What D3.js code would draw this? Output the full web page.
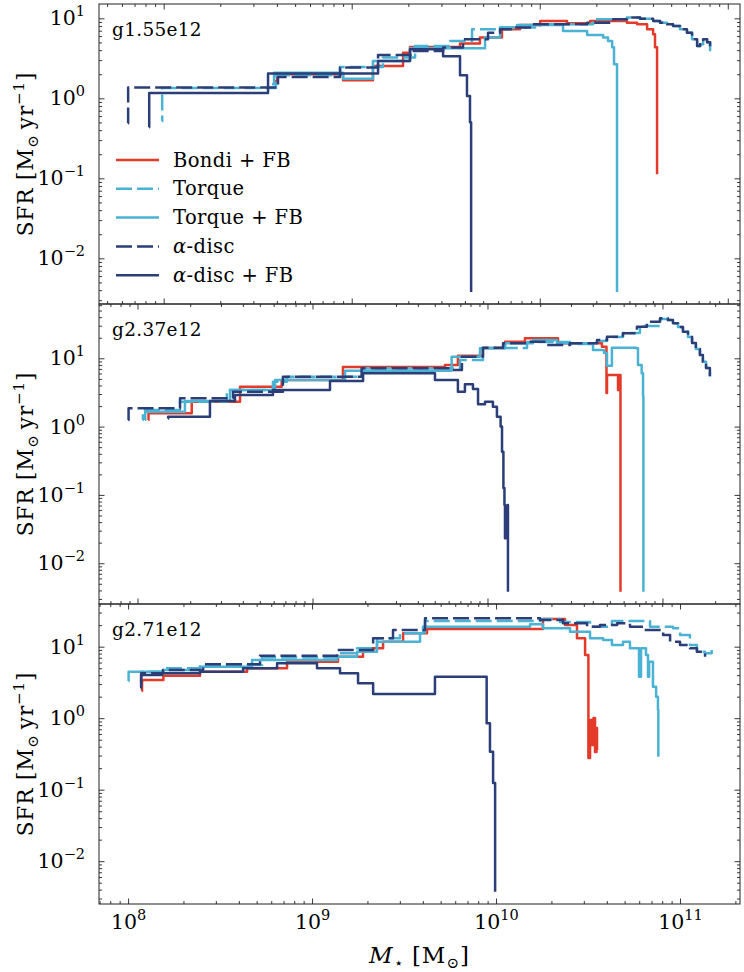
<!DOCTYPE html>
<html>
<head>
<meta charset="utf-8">
<script src="https://cdn.jsdelivr.net/npm/d3@7/dist/d3.min.js"></script>
<style>
  html, body { margin: 0; padding: 0; background: #fff; }
  svg { display: block; }
  text { font-family: "DejaVu Serif", serif; fill: #000; }
</style>
</head>
<body>
<svg id="chart" width="744" height="972"></svg>
<script>
// ---------------- data (log10 M* [Msun], log10 SFR [Msun/yr]) ----------------
const panelNames = ["g1.55e12", "g2.37e12", "g2.71e12"];
const seriesLabels = ["Bondi + FB", "Torque", "Torque + FB", "α-disc", "α-disc + FB"];

// axis limits per panel (log10 units)
const xLimLog = [[7.656, 11.065], [7.780, 11.443], [7.842, 11.326]];
const yLimLog = [[-2.571, 1.179], [-2.597, 1.795], [-2.599, 1.597]];

// ---- g1.55e12
const g155_bondiFB = [[8.592,0.213],[8.603,0.300],[8.954,0.225],[9.113,0.404],[9.273,0.571],[9.310,0.641],[9.576,0.684],[9.682,0.759],[9.799,0.863],[9.895,0.916],[10.002,0.966],[10.145,0.938],[10.268,0.966],[10.464,0.946],[10.518,0.925],[10.571,0.863],[10.603,0.800],[10.613,0.638],[10.624,-0.950]];
const g155_torque = [[7.991,-0.288],[7.992,0.129],[8.597,0.288],[8.938,0.391],[9.166,0.509],[9.337,0.654],[9.523,0.716],[9.640,0.863],[9.789,0.884],[10.002,0.925],[10.284,0.988],[10.464,1.009],[10.534,0.994],[10.603,0.966],[10.640,0.946],[10.677,0.925],[10.709,0.904],[10.746,0.863],[10.783,0.821],[10.810,0.738],[10.837,0.654],[10.853,0.675],[10.869,0.738],[10.890,0.700],[10.906,0.571]];
const g155_torqueFB = [[8.576,0.175],[8.587,0.319],[8.954,0.244],[9.113,0.466],[9.310,0.625],[9.709,0.759],[9.789,0.884],[9.879,0.916],[10.124,0.841],[10.252,0.791],[10.337,0.759],[10.363,0.716],[10.385,0.638],[10.395,0.425],[10.411,-2.421]];
const g155_alpha = [[7.810,-0.313],[7.811,0.134],[8.608,0.266],[8.938,0.384],[9.140,0.541],[9.321,0.591],[9.486,0.634],[9.592,0.738],[9.725,0.821],[9.789,0.863],[9.858,0.884],[9.948,0.925],[10.252,0.946],[10.390,0.988],[10.464,1.009],[10.534,0.994],[10.603,0.966],[10.640,0.946],[10.677,0.925],[10.709,0.904],[10.746,0.863],[10.783,0.821],[10.810,0.738],[10.837,0.654],[10.853,0.675],[10.869,0.738],[10.890,0.700],[10.906,0.613]];
const g155_alphaFB = [[7.922,-0.363],[7.923,0.066],[8.555,0.309],[9.140,0.466],[9.310,0.613],[9.486,0.525],[9.576,0.288],[9.613,0.029],[9.629,-0.300],[9.635,-2.421]];

// ---- g2.37e12
const g237_bondiFB = [[8.062,0.097],[8.063,0.195],[8.310,0.365],[8.586,0.584],[8.824,0.682],[9.174,0.873],[9.757,0.902],[9.831,1.038],[9.974,1.151],[10.100,1.243],[10.214,1.293],[10.403,1.220],[10.654,1.170],[10.680,0.492],[10.683,0.755],[10.746,0.536],[10.749,0.755],[10.760,-2.417]];
const g237_torque = [[8.030,0.097],[8.031,0.243],[8.243,0.365],[8.511,0.536],[8.774,0.657],[8.854,0.731],[9.283,0.854],[9.797,0.858],[9.843,0.975],[9.974,1.151],[10.226,1.239],[10.471,1.209],[10.626,1.253],[10.683,1.312],[10.774,1.371],[10.871,1.473],[10.986,1.576],[11.031,1.561],[11.060,1.512],[11.089,1.458],[11.117,1.389],[11.146,1.312],[11.169,1.224],[11.191,1.136],[11.214,1.048],[11.231,0.950],[11.249,0.858],[11.271,0.731]];
const g237_torqueFB = [[8.043,0.097],[8.044,0.218],[8.271,0.375],[8.529,0.536],[8.786,0.682],[9.186,0.818],[9.795,1.023],[9.957,1.146],[10.100,1.220],[10.260,1.268],[10.397,1.220],[10.603,1.122],[10.666,1.078],[10.683,0.892],[10.711,1.155],[10.849,1.146],[10.860,0.902],[10.881,0.780],[10.889,0.438],[10.891,-2.417]];
const g237_alpha = [[7.947,0.097],[7.949,0.268],[8.243,0.414],[8.546,0.511],[8.831,0.731],[9.281,0.854],[9.797,0.829],[9.854,1.023],[9.974,1.155],[10.089,1.220],[10.226,1.243],[10.340,1.195],[10.471,1.220],[10.626,1.268],[10.683,1.316],[10.774,1.366],[10.854,1.463],[10.911,1.536],[10.986,1.586],[11.031,1.561],[11.060,1.512],[11.089,1.458],[11.117,1.389],[11.146,1.312],[11.169,1.224],[11.191,1.136],[11.214,1.048],[11.231,0.950],[11.249,0.858],[11.271,0.731]];
const g237_alphaFB = [[8.174,0.120],[8.175,0.145],[8.414,0.375],[8.557,0.463],[8.774,0.536],[9.100,0.668],[9.289,0.780],[9.700,0.682],[9.831,0.511],[9.871,0.619],[9.917,0.551],[9.946,0.327],[9.986,0.365],[10.031,0.291],[10.054,0.145],[10.075,0.000],[10.083,-0.367],[10.091,-0.899],[10.097,-1.148],[10.100,-1.635],[10.114,-1.148],[10.117,-2.417]];

// ---- g2.71e12
const g271_bondiFB = [[8.074,0.380],[8.076,0.534],[8.192,0.594],[8.391,0.650],[8.647,0.698],[8.864,0.790],[9.141,0.860],[9.277,0.978],[9.386,1.070],[9.495,1.187],[9.625,1.248],[10.255,1.387],[10.375,1.303],[10.440,1.117],[10.484,0.884],[10.502,-0.557],[10.511,-0.025],[10.522,-0.375],[10.530,0.003],[10.538,-0.473],[10.546,-0.137],[10.549,-0.445]];
const g271_torque = [[8.074,0.590],[8.076,0.650],[8.190,0.698],[8.391,0.744],[8.728,0.849],[9.136,0.908],[9.245,0.978],[9.353,1.117],[9.478,1.187],[9.614,1.359],[10.239,1.387],[10.348,1.346],[10.511,1.280],[10.630,1.359],[10.745,1.359],[10.837,1.280],[10.962,1.257],[11.000,1.164],[11.054,1.024],[11.092,0.930],[11.136,0.908],[11.172,0.954]];
const g271_torqueFB = [[8.002,0.520],[8.003,0.650],[8.190,0.674],[8.391,0.720],[8.674,0.814],[9.136,0.860],[9.245,0.930],[9.353,1.070],[9.587,1.187],[9.603,1.280],[10.185,1.313],[10.255,1.257],[10.402,1.210],[10.511,1.117],[10.582,1.094],[10.630,1.024],[10.690,1.070],[10.728,0.978],[10.777,0.580],[10.788,0.978],[10.815,0.884],[10.826,0.580],[10.832,0.790],[10.853,0.441],[10.870,0.301],[10.880,0.115],[10.882,-0.538]];
const g271_alpha = [[8.069,0.478],[8.071,0.628],[8.190,0.674],[8.408,0.754],[8.717,0.874],[9.136,0.954],[9.332,1.117],[9.440,1.234],[9.614,1.397],[10.239,1.373],[10.364,1.327],[10.495,1.280],[10.565,1.303],[10.658,1.327],[10.728,1.280],[10.799,1.234],[10.908,1.164],[10.946,1.070],[11.000,1.024],[11.054,0.978],[11.092,0.930],[11.136,0.860]];
const g271_alphaFB = [[8.069,0.422],[8.071,0.604],[8.185,0.628],[8.391,0.650],[8.625,0.698],[8.810,0.768],[9.027,0.698],[9.152,0.628],[9.250,0.488],[9.332,0.338],[9.668,0.580],[9.949,-0.071],[9.967,-0.469],[9.984,-0.906],[9.995,-2.427]];

const panelSeries = [
  [g155_bondiFB, g155_torque, g155_torqueFB, g155_alpha, g155_alphaFB],
  [g237_bondiFB, g237_torque, g237_torqueFB, g237_alpha, g237_alphaFB],
  [g271_bondiFB, g271_torque, g271_torqueFB, g271_alpha, g271_alphaFB]
];

// ---------------- styles ----------------
const seriesColors = ["#e33a2a", "#4ab2d2", "#4ab2d2", "#2b3e78", "#2b3e78"];
const seriesDash = [null, "16,5", null, "16,5", null];
const seriesDashOffset = [0, 10, 0, 0, 0];
const axisColor = "#222";
const lineW = 2.5;

// ---------------- layout ----------------
const W = 744;
const M = { left: 99, right: 4, top: 4 };
const PH = 300;
const majorLen = 5.5, minorLen = 3;
const svg = d3.select("#chart");

const fmtExp = v => String(Math.round(Math.log10(v))).replace("-", "\u2212");

function decadeTicks(lo, hi) {
  const major = [], minor = [];
  for (let k = Math.floor(lo) - 1; k <= Math.ceil(hi); k++) {
    if (k >= lo - 1e-9 && k <= hi + 1e-9) major.push(Math.pow(10, k));
    for (let m = 2; m <= 9; m++) {
      const l = k + Math.log10(m);
      if (l >= lo && l <= hi) minor.push(m * Math.pow(10, k));
    }
  }
  return { major, minor };
}

panelSeries.forEach((series, i) => {
  const top = M.top + i * PH, bottom = top + PH;
  const x = d3.scaleLog().domain([10 ** xLimLog[i][0], 10 ** xLimLog[i][1]]).range([M.left, W - M.right]);
  const y = d3.scaleLog().domain([10 ** yLimLog[i][0], 10 ** yLimLog[i][1]]).range([bottom, top]);

  const clipId = "clip" + i;
  svg.append("clipPath").attr("id", clipId).append("rect")
    .attr("x", M.left).attr("y", top).attr("width", W - M.left - M.right).attr("height", PH);

  const line = d3.line()
    .x(d => x(10 ** d[0]))
    .y(d => y(10 ** d[1]))
    .curve(d3.curveStepAfter);

  const gl = svg.append("g").attr("clip-path", `url(#${clipId})`);
  series.forEach((s, k) => {
    gl.append("path")
      .attr("d", line(s))
      .attr("fill", "none")
      .attr("stroke", seriesColors[k])
      .attr("stroke-width", lineW)
      .attr("stroke-dasharray", seriesDash[k])
      .attr("stroke-dashoffset", seriesDashOffset[k])
      .attr("stroke-linejoin", "round")
      .attr("stroke-linecap", "butt");
  });

  // ---- axes (inward ticks on all four sides)
  const xt = decadeTicks(xLimLog[i][0], xLimLog[i][1]);
  const yt = decadeTicks(yLimLog[i][0], yLimLog[i][1]);
  const axG = svg.append("g");

  const addAxis = (gen, scale, vals, len, tr, fmt, pad) => {
    const a = axG.append("g").attr("transform", tr)
      .call(gen(scale).tickValues(vals).tickSize(-len).tickPadding(pad || 3).tickFormat(fmt || (() => "")));
    a.select(".domain").remove();
    a.selectAll(".tick line").attr("stroke", axisColor).attr("stroke-width", 0.9);
    return a;
  };

  addAxis(d3.axisBottom, x, xt.minor, minorLen, `translate(0,${bottom})`);
  addAxis(d3.axisTop, x, xt.minor, minorLen, `translate(0,${top})`);
  addAxis(d3.axisTop, x, xt.major, majorLen, `translate(0,${top})`);
  addAxis(d3.axisLeft, y, yt.minor, minorLen, `translate(${M.left},0)`);
  addAxis(d3.axisRight, y, yt.minor, minorLen, `translate(${W - M.right},0)`);
  addAxis(d3.axisRight, y, yt.major, majorLen, `translate(${W - M.right},0)`);

  const xb = addAxis(d3.axisBottom, x, xt.major, majorLen, `translate(0,${bottom})`, i === 2 ? (() => "10") : null);
  if (i === 2) {
    xb.selectAll(".tick text")
      .attr("y", 25).attr("dy", null)
      .style("font-size", "20.5px")
      .each(function (d) {
        d3.select(this).append("tspan").attr("dy", -9).style("font-size", "14.5px").text(fmtExp(d));
      });
  }

  const yl = addAxis(d3.axisLeft, y, yt.major, majorLen, `translate(${M.left},0)`, () => "10", 14);
  yl.selectAll(".tick text")
    .attr("dy", 6.5)
    .style("font-size", "20.5px")
    .each(function (d) {
      d3.select(this).append("tspan").attr("dy", -9).style("font-size", "14.5px").text(fmtExp(d));
    });

  // frame
  svg.append("rect")
    .attr("x", M.left).attr("y", top)
    .attr("width", W - M.left - M.right).attr("height", PH)
    .attr("fill", "none").attr("stroke", axisColor).attr("stroke-width", 1);

  // panel name
  svg.append("text").attr("x", 112).attr("y", top + 32)
    .style("font-size", "18.5px").style("letter-spacing", "0.3px").text(panelNames[i]);

  // y label
  const cy = (top + bottom) / 2;
  const ylab = svg.append("text")
    .attr("transform", `translate(33,${cy}) rotate(-90)`)
    .attr("text-anchor", "middle")
    .style("font-size", "21.5px")
    .style("letter-spacing", "0.9px");
  ylab.append("tspan").text("SFR [M");
  ylab.append("tspan").attr("dy", 4.5).style("font-size", "15px").text("\u2299");
  ylab.append("tspan").attr("dy", -4.5).text("\u2009yr");
  ylab.append("tspan").attr("dy", -9).style("font-size", "15px").text("\u22121");
  ylab.append("tspan").attr("dy", 9).text("]");

  // legend in first panel
  if (i === 0) {
    const lg = svg.append("g");
    seriesLabels.forEach((lab, k) => {
      const ly = 160 + 28.8 * k;
      lg.append("line").attr("x1", 116).attr("x2", 159).attr("y1", ly).attr("y2", ly)
        .attr("stroke", seriesColors[k]).attr("stroke-width", lineW)
        .attr("stroke-dasharray", seriesDash[k]);
      const t = lg.append("text").attr("x", 173).attr("y", ly + 6.5)
        .style("font-size", "19.5px").style("letter-spacing", "0.4px");
      if (lab.startsWith("α")) {
        t.append("tspan").style("font-style", "italic").text("α");
        t.append("tspan").text(lab.slice(1));
      } else {
        t.text(lab);
      }
    });
  }
});

// x label
const xl = svg.append("text")
  .attr("x", (M.left + W - M.right) / 2).attr("y", 963)
  .attr("text-anchor", "middle")
  .style("font-size", "23px")
  .style("letter-spacing", "1px");
xl.append("tspan").style("font-style", "italic").text("M");
xl.append("tspan").attr("dy", 4.5).style("font-size", "15px").text("\u22c6");
xl.append("tspan").attr("dy", -4.5).text(" [M");
xl.append("tspan").attr("dy", 4.5).style("font-size", "15px").text("\u2299");
xl.append("tspan").attr("dy", -4.5).text("]");
</script>
</body>
</html>
